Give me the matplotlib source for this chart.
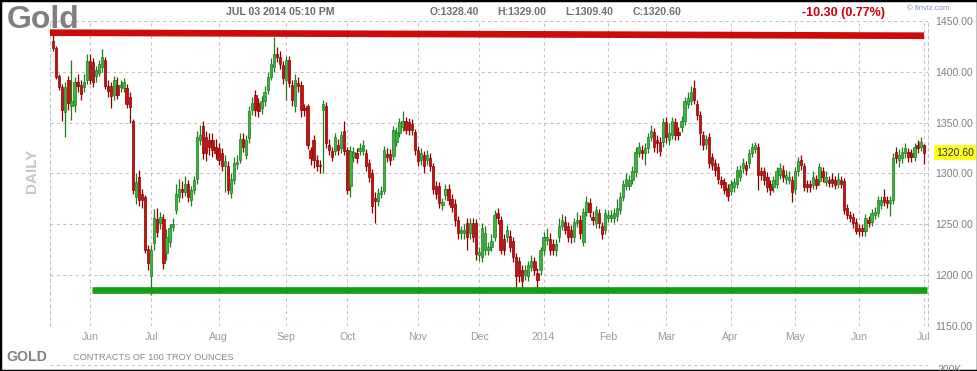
import numpy as np
import pandas as pd
import matplotlib
matplotlib.use('Agg')
import matplotlib.pyplot as plt
import matplotlib.transforms as mtransforms
from matplotlib.patches import Rectangle
from matplotlib.lines import Line2D

plt.rcParams['font.family'] = ['Liberation Sans', 'DejaVu Sans']

# ---- daily gold futures bars ----
opens = [
    1430, 1423, 1396, 1385, 1360, 1392, 1366, 1367, 1390, 1387,
    1385, 1392, 1411, 1410, 1396, 1399, 1405, 1412, 1386, 1386,
    1377, 1387, 1385, 1384, 1384, 1375, 1352, 1277, 1297, 1280,
    1277, 1226, 1199, 1232, 1255, 1251, 1255, 1222, 1233, 1247,
    1264, 1277, 1285, 1282, 1290, 1274, 1284, 1295, 1333, 1347,
    1336, 1333, 1333, 1326, 1325, 1320, 1307, 1307, 1281, 1294,
    1309, 1313, 1334, 1318, 1335, 1362, 1377, 1369, 1364, 1371,
    1382, 1395, 1405, 1418, 1415, 1407, 1392, 1412, 1387, 1366,
    1389, 1387, 1364, 1366, 1323, 1333, 1313, 1308, 1362, 1366,
    1328, 1322, 1322, 1328, 1325, 1342, 1323, 1288, 1316, 1320,
    1322, 1322, 1320, 1310, 1300, 1276, 1273, 1280, 1283, 1319,
    1319, 1317, 1331, 1340, 1346, 1352, 1351, 1349, 1341, 1323,
    1313, 1318, 1313, 1315, 1307, 1288, 1288, 1269, 1279, 1285,
    1275, 1270, 1254, 1241, 1241, 1251, 1241, 1251, 1251, 1220,
    1218, 1225, 1225, 1228, 1238, 1261, 1254, 1236, 1238, 1239,
    1234, 1218, 1214, 1205, 1200, 1199, 1208, 1214, 1202, 1205,
    1225, 1235, 1236, 1231, 1225, 1238, 1248, 1252, 1248, 1244,
    1238, 1251, 1254, 1233, 1262, 1271, 1257, 1251, 1261, 1248,
    1244, 1256, 1256, 1256, 1258, 1264, 1277, 1288, 1288, 1294,
    1301, 1320, 1323, 1320, 1325, 1336, 1341, 1333, 1331, 1331,
    1351, 1333, 1338, 1351, 1341, 1346, 1352, 1368, 1371, 1384,
    1368, 1358, 1338, 1329, 1336, 1316, 1310, 1306, 1294, 1292,
    1286, 1283, 1287, 1290, 1297, 1305, 1308, 1310, 1320, 1324,
    1326, 1302, 1302, 1297, 1290, 1287, 1290, 1299, 1303, 1295,
    1294, 1294, 1285, 1302, 1313, 1307, 1290, 1290, 1289, 1295,
    1293, 1302, 1292, 1294, 1295, 1294, 1290, 1294, 1293, 1266,
    1259, 1257, 1252, 1246, 1246, 1243, 1254, 1252, 1259, 1261,
    1269, 1277, 1274, 1271, 1274, 1321, 1313, 1315, 1320, 1321,
    1320, 1316, 1328, 1326, 1328.4,
]
highs = [
    1436, 1425, 1398, 1388, 1390, 1396, 1412, 1395, 1398, 1392,
    1398, 1418, 1418, 1414, 1406, 1412, 1422, 1415, 1392, 1390,
    1396, 1395, 1392, 1394, 1388, 1380, 1354, 1300, 1303, 1285,
    1279, 1230, 1230, 1265, 1266, 1262, 1260, 1245, 1250, 1256,
    1290, 1295, 1293, 1298, 1294, 1288, 1298, 1342, 1348, 1352,
    1342, 1340, 1340, 1334, 1330, 1325, 1318, 1312, 1300, 1316,
    1318, 1340, 1340, 1338, 1366, 1375, 1382, 1374, 1376, 1386,
    1400, 1414, 1434, 1424, 1420, 1411, 1416, 1416, 1392, 1398,
    1395, 1391, 1368, 1368, 1326, 1338, 1318, 1313, 1372, 1370,
    1334, 1326, 1340, 1334, 1342, 1352, 1326, 1327, 1326, 1325,
    1330, 1333, 1324, 1314, 1304, 1282, 1286, 1288, 1327, 1325,
    1324, 1347, 1346, 1355, 1361, 1356, 1355, 1354, 1344, 1327,
    1325, 1322, 1323, 1320, 1310, 1293, 1292, 1276, 1290, 1290,
    1280, 1275, 1258, 1248, 1250, 1256, 1256, 1256, 1255, 1228,
    1251, 1248, 1233, 1240, 1264, 1266, 1258, 1240, 1249, 1244,
    1238, 1222, 1218, 1210, 1210, 1214, 1220, 1218, 1207, 1228,
    1242, 1246, 1241, 1236, 1236, 1256, 1260, 1258, 1252, 1249,
    1256, 1262, 1259, 1266, 1278, 1276, 1263, 1268, 1265, 1252,
    1265, 1264, 1264, 1266, 1275, 1282, 1294, 1300, 1299, 1307,
    1326, 1331, 1328, 1330, 1340, 1348, 1345, 1338, 1336, 1355,
    1356, 1350, 1356, 1355, 1346, 1357, 1375, 1380, 1386, 1392,
    1372, 1361, 1342, 1338, 1340, 1320, 1314, 1310, 1298, 1296,
    1290, 1294, 1296, 1307, 1308, 1315, 1312, 1324, 1330, 1331,
    1330, 1306, 1306, 1301, 1294, 1298, 1306, 1310, 1308, 1303,
    1302, 1298, 1306, 1316, 1318, 1310, 1294, 1294, 1302, 1299,
    1310, 1306, 1302, 1298, 1300, 1298, 1300, 1298, 1296, 1270,
    1263, 1261, 1256, 1250, 1250, 1260, 1258, 1265, 1267, 1278,
    1278, 1285, 1278, 1278, 1320, 1326, 1324, 1326, 1330, 1325,
    1324, 1330, 1333, 1336, 1329,
]
lows = [
    1420, 1393, 1382, 1352, 1336, 1362, 1353, 1360, 1380, 1372,
    1380, 1388, 1388, 1385, 1390, 1396, 1400, 1383, 1375, 1364,
    1372, 1373, 1380, 1380, 1364, 1350, 1280, 1270, 1268, 1266,
    1222, 1205, 1180, 1225, 1238, 1245, 1206, 1215, 1228, 1243,
    1260, 1272, 1276, 1278, 1272, 1268, 1280, 1290, 1328, 1314,
    1312, 1318, 1316, 1314, 1308, 1302, 1282, 1280, 1276, 1290,
    1304, 1310, 1321, 1314, 1330, 1358, 1357, 1356, 1359, 1366,
    1378, 1392, 1400, 1410, 1403, 1388, 1372, 1385, 1366, 1360,
    1380, 1356, 1357, 1324, 1308, 1305, 1302, 1300, 1300, 1325,
    1318, 1312, 1318, 1318, 1320, 1318, 1280, 1277, 1311, 1310,
    1318, 1318, 1302, 1292, 1261, 1251, 1268, 1276, 1280, 1311,
    1308, 1313, 1327, 1336, 1342, 1339, 1338, 1338, 1318, 1307,
    1308, 1300, 1308, 1302, 1280, 1275, 1266, 1264, 1274, 1269,
    1262, 1248, 1236, 1236, 1236, 1225, 1236, 1233, 1215, 1214,
    1213, 1220, 1220, 1224, 1234, 1250, 1221, 1220, 1233, 1223,
    1213, 1188, 1193, 1186, 1195, 1194, 1204, 1200, 1183, 1200,
    1220, 1230, 1220, 1220, 1219, 1233, 1244, 1240, 1233, 1232,
    1233, 1247, 1236, 1229, 1258, 1257, 1249, 1246, 1246, 1236,
    1240, 1252, 1252, 1251, 1253, 1260, 1273, 1284, 1284, 1290,
    1297, 1316, 1314, 1308, 1320, 1332, 1321, 1320, 1317, 1326,
    1330, 1328, 1334, 1333, 1333, 1341, 1348, 1364, 1367, 1368,
    1353, 1328, 1323, 1324, 1305, 1303, 1298, 1290, 1286, 1280,
    1273, 1279, 1282, 1286, 1293, 1300, 1299, 1305, 1316, 1320,
    1284, 1294, 1289, 1282, 1279, 1282, 1286, 1295, 1292, 1290,
    1290, 1272, 1280, 1298, 1303, 1283, 1282, 1282, 1285, 1285,
    1289, 1292, 1288, 1287, 1287, 1285, 1286, 1286, 1260, 1255,
    1252, 1246, 1240, 1239, 1239, 1239, 1247, 1248, 1255, 1257,
    1265, 1268, 1266, 1258, 1270, 1310, 1306, 1310, 1315, 1311,
    1311, 1312, 1320, 1322, 1309.4,
]
closes = [
    1423, 1395, 1385, 1362, 1385, 1369, 1371, 1390, 1386, 1378,
    1390, 1411, 1392, 1390, 1402, 1408, 1415, 1386, 1381, 1376,
    1392, 1377, 1387, 1390, 1368, 1365, 1284, 1292, 1274, 1274,
    1225, 1212, 1225, 1256, 1242, 1257, 1212, 1238, 1246, 1250,
    1280, 1285, 1282, 1290, 1277, 1284, 1294, 1336, 1338, 1320,
    1320, 1326, 1323, 1320, 1313, 1307, 1312, 1284, 1295, 1310,
    1311, 1334, 1326, 1333, 1361, 1369, 1362, 1361, 1371, 1380,
    1395, 1408, 1418, 1415, 1408, 1394, 1412, 1389, 1372, 1392,
    1386, 1362, 1362, 1328, 1315, 1313, 1307, 1307, 1368, 1330,
    1323, 1316, 1336, 1323, 1338, 1322, 1284, 1322, 1321, 1315,
    1325, 1328, 1307, 1297, 1268, 1273, 1281, 1283, 1323, 1316,
    1313, 1343, 1341, 1351, 1352, 1343, 1343, 1343, 1323, 1312,
    1320, 1307, 1318, 1307, 1285, 1280, 1271, 1272, 1285, 1274,
    1267, 1254, 1241, 1244, 1244, 1238, 1251, 1238, 1221, 1223,
    1246, 1241, 1228, 1234, 1259, 1256, 1225, 1225, 1244, 1228,
    1218, 1199, 1199, 1194, 1205, 1210, 1214, 1205, 1195, 1225,
    1238, 1238, 1225, 1225, 1231, 1248, 1254, 1244, 1238, 1238,
    1252, 1254, 1241, 1262, 1272, 1262, 1254, 1264, 1251, 1240,
    1261, 1259, 1259, 1261, 1266, 1277, 1290, 1295, 1294, 1302,
    1321, 1326, 1320, 1325, 1336, 1342, 1326, 1330, 1322, 1351,
    1336, 1340, 1352, 1338, 1338, 1352, 1371, 1374, 1380, 1372,
    1358, 1340, 1328, 1334, 1310, 1308, 1303, 1295, 1290, 1284,
    1278, 1290, 1292, 1303, 1303, 1310, 1303, 1320, 1326, 1328,
    1299, 1299, 1294, 1287, 1284, 1294, 1302, 1305, 1297, 1299,
    1297, 1282, 1302, 1312, 1308, 1287, 1287, 1287, 1297, 1289,
    1306, 1297, 1297, 1291, 1291, 1289, 1295, 1290, 1264, 1259,
    1256, 1251, 1243, 1243, 1243, 1256, 1251, 1261, 1262, 1274,
    1274, 1272, 1271, 1274, 1315, 1315, 1318, 1321, 1325, 1316,
    1316, 1326, 1325, 1331, 1320.6,
]

# trading calendar for the bars (exchange holidays skipped)
holidays = ['2013-05-27', '2013-07-04', '2013-09-02', '2013-11-28', '2013-12-25',
            '2014-01-01', '2014-01-20', '2014-02-17', '2014-04-18', '2014-05-26']
last_bar_date = '2014-07-01'

# hand-drawn trend lines: (bar index, price)
resistance_x = [-1, 284.1]
resistance_y = [1438.5, 1435.5]
support_x = [12.7, 285.1]
support_y = [1185, 1185]

y_ticks = [1150, 1200, 1250, 1300, 1350, 1400, 1450]

header_date = 'JUL 03 2014 05:10 PM'
change_text = '-10.30 (0.77%)'

# ---- build ----
o = np.array(opens, float)
h = np.array(highs, float)
l = np.array(lows, float)
c = np.array(closes, float)
idx = np.arange(len(c))

dates = pd.bdate_range('2013-04-01', last_bar_date, freq='C', holidays=holidays)[-len(c):]
month_starts = [i for i in range(1, len(dates)) if dates[i].month != dates[i - 1].month]
month_labels = ['2014' if dates[i].month == 1 else dates[i].strftime('%b') for i in month_starts]

W, H = 978, 371
fig = plt.figure(figsize=(W / 100, H / 100), dpi=100)
fig.patch.set_facecolor('white')


def fx(x):
    return x / W


def fy(y):
    return 1 - y / H


ax = fig.add_axes([fx(50), fy(326), 878 / W, 305 / H])
ax.set_xlim(-1, 285.4)
ax.set_ylim(1150, 1450)

# candles
up = c > o
body_col = np.where(up, '#3bb53b', '#c81010')
edge_col = np.where(up, '#1d7d1d', '#8a0000')
ax.vlines(idx, l, h, colors=edge_col, lw=0.9, zorder=2)
body_h = np.maximum(np.abs(c - o), 0.8)
ax.bar(idx, body_h, bottom=np.minimum(o, c), width=0.75, color=body_col,
       edgecolor=edge_col, linewidth=0.5, zorder=3)

# trend lines
ax.plot(resistance_x, resistance_y, color='#cc0b0b', lw=4.8,
        solid_capstyle='butt', zorder=4, clip_on=False)
ax.plot(support_x, support_y, color='#10a010', lw=4.8,
        solid_capstyle='butt', zorder=4, clip_on=False)

# grid / axes
ax.set_yticks(y_ticks)
ax.set_yticklabels(['%.2f' % v for v in y_ticks])
ax.set_xticks(month_starts)
ax.set_xticklabels(month_labels)
ax.grid(True, color='#c4c4c4', linestyle=(0, (3, 3)), lw=0.75, zorder=0)
ax.yaxis.tick_right()
ax.tick_params(axis='y', length=0, pad=5, labelsize=7.6, labelcolor='#808080')
ax.tick_params(axis='x', length=0, pad=4, labelsize=7.6, labelcolor='#9a9a9a')
for s in ['top', 'bottom']:
    ax.spines[s].set_visible(False)
for s in ['left', 'right']:
    ax.spines[s].set_color('#c4c4c4')
    ax.spines[s].set_linestyle((0, (3, 3)))
    ax.spines[s].set_linewidth(0.75)

# last price tag
trans = mtransforms.blended_transform_factory(ax.transAxes, ax.transData)
ax.text(1 + 8 / 878, c[-1], '%.2f' % c[-1], transform=trans, ha='left', va='center',
        fontsize=7.6, color='#333333',
        bbox=dict(boxstyle='square,pad=0.2', fc='#ffff22', ec='none'))

# header texts
fig.text(fx(7), fy(20), 'Gold', fontsize=23, fontweight='bold', color='#7f7f7f',
         ha='left', va='center')
fig.text(fx(226), fy(12), header_date, fontsize=7.6, fontweight='bold',
         color='#6a6a6a', ha='left', va='center')
for x0, lab, val in [(430, 'O', o[-1]), (497, 'H', h[-1]), (565, 'L', l[-1]), (633, 'C', c[-1])]:
    fig.text(fx(x0), fy(12), '%s:%.2f' % (lab, val), fontsize=7.6, fontweight='bold',
             color='#707070', ha='left', va='center')
fig.text(fx(802), fy(13), change_text, fontsize=9, fontweight='bold',
         color='#cc0000', ha='left', va='center')
fig.text(fx(907), fy(9), '\u00a9 finviz.com', fontsize=5.6, color='#8296bd',
         ha='left', va='center')
fig.text(fx(32), fy(171), 'DAILY', fontsize=11, fontweight='bold', color='#c6c6c6',
         rotation=90, ha='center', va='center')

# footer
fig.add_artist(Line2D([fx(50), fx(928)], [fy(365), fy(365)], color='#c4c4c4',
                      lw=0.75, linestyle=(0, (3, 3))))
fig.text(fx(6), fy(357), 'GOLD', fontsize=10.2, fontweight='bold', color='#808080',
         ha='left', va='center')
fig.text(fx(73), fy(358), 'CONTRACTS OF 100 TROY OUNCES', fontsize=6.7, color='#8a8a8a',
         ha='left', va='center')
fig.text(fx(938), fy(365), '200K', fontsize=7.6, color='#808080', ha='left', va='top')

# outer frame
fig.add_artist(Rectangle((0, 0), 1, 1, transform=fig.transFigure, fill=False,
                         ec='black', lw=2.5))

fig.savefig('out.png', dpi=100, facecolor='white')
